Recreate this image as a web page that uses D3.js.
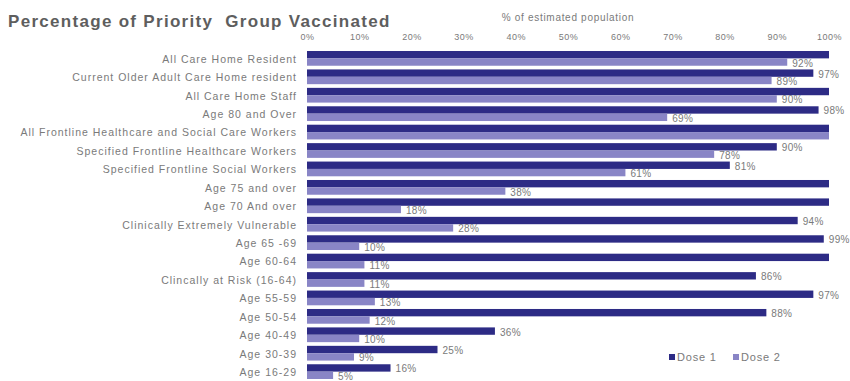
<!DOCTYPE html>
<html>
<head>
<meta charset="utf-8">
<script src="https://cdn.jsdelivr.net/npm/d3@7"></script>
<style>
	body { margin: 0; background: #fff; }
	text { font-family: "Liberation Sans", Arial, sans-serif; fill: #7a7a7a; }
</style>
</head>
<body>
<svg id="chart"></svg>
<script>
/* data */
var categories = [
	"All Care Home Resident",
	"Current Older Adult Care Home resident",
	"All Care Home Staff",
	"Age 80 and Over",
	"All Frontline Healthcare and Social Care Workers",
	"Specified Frontline Healthcare Workers",
	"Specified Frontline Social Workers",
	"Age 75 and over",
	"Age 70 And over",
	"Clinically Extremely Vulnerable",
	"Age 65 -69",
	"Age 60-64",
	"Clincally at Risk (16-64)",
	"Age 55-59",
	"Age 50-54",
	"Age 40-49",
	"Age 30-39",
	"Age 16-29"
];
var dose1 = [100, 97, 100, 98, 100, 90, 81, 100, 100, 94, 99, 100, 86, 97, 88, 36, 25, 16];
var dose2 = [92, 89, 90, 69, 100, 78, 61, 38, 18, 28, 10, 11, 11, 13, 12, 10, 9, 5];
var seriesNames = ["Dose 1", "Dose 2"];
var xTicks = [0, 10, 20, 30, 40, 50, 60, 70, 80, 90, 100];

/* settings */
var width = 850,
	height = 381,
	colors = ["#2d2b85", "#8985c6"];

var svg = d3.select("#chart")
	.attr("width", width)
	.attr("height", height);

/* scales */
var xScale = d3.scaleLinear()
	.domain([0, 100])
	.range([307, 829]);

var yScale = d3.scaleBand()
	.domain(categories)
	.range([51, 379])
	.paddingInner(0.2)
	.paddingOuter(0);

var subScale = d3.scaleBand()
	.domain(seriesNames)
	.range([0, yScale.bandwidth()]);

var rows = categories.map(function (c, i) {
	return {
		name: c,
		values: [
			{ series: seriesNames[0], value: dose1[i] },
			{ series: seriesNames[1], value: dose2[i] }
		]
	};
});

/* title */
svg.append("text")
	.attr("x", 8)
	.attr("y", 27)
	.style("font-size", "17px")
	.style("font-weight", "bold")
	.style("letter-spacing", "1.3px")
	.style("white-space", "pre")
	.style("fill", "#5e5e5e")
	.text("Percentage of Priority  Group Vaccinated");

/* top axis */
svg.append("text")
	.attr("x", (xScale(0) + xScale(100)) / 2)
	.attr("y", 21)
	.attr("text-anchor", "middle")
	.style("font-size", "10px")
	.style("letter-spacing", "0.7px")
	.text("% of estimated population");

var xAxis = d3.axisTop(xScale)
	.tickValues(xTicks)
	.tickSize(0)
	.tickPadding(0)
	.tickFormat(function (d) { return d + "%"; });

var xAxisG = svg.append("g")
	.attr("class", "x-axis")
	.attr("transform", "translate(0,40)")
	.call(xAxis);
xAxisG.select(".domain").remove();
xAxisG.selectAll("text")
	.attr("fill", null)
	.style("font-size", "9px")
	.style("letter-spacing", "0.5px")
	.style("font-family", null);

/* category labels */
var yAxis = d3.axisLeft(yScale).tickSize(0).tickPadding(0);
var yAxisG = svg.append("g")
	.attr("class", "y-axis")
	.attr("transform", "translate(297,1)")
	.call(yAxis);
yAxisG.select(".domain").remove();
yAxisG.selectAll("text")
	.attr("fill", null)
	.style("font-size", "10.5px")
	.style("letter-spacing", "1px")
	.style("font-family", null);

/* bars */
var groups = svg.append("g")
	.attr("id", "bars")
	.selectAll(".row")
	.data(rows)
	.enter()
	.append("g")
	.attr("class", "row")
	.attr("transform", function (d) { return "translate(0," + yScale(d.name) + ")"; });

groups.selectAll("rect")
	.data(function (d) { return d.values; })
	.enter()
	.append("rect")
	.attr("x", xScale(0))
	.attr("y", function (d) { return subScale(d.series); })
	.attr("width", function (d) { return xScale(d.value) - xScale(0); })
	.attr("height", subScale.bandwidth())
	.style("fill", function (d, i) { return colors[seriesNames.indexOf(d.series)]; });

/* value labels, the chart leaves 100% bars unlabelled */
groups.selectAll(".val")
	.data(function (d) { return d.values.filter(function (v) { return v.value < 100; }); })
	.enter()
	.append("text")
	.attr("class", "val")
	.attr("x", function (d) { return xScale(d.value) + 5; })
	.attr("y", function (d) { return subScale(d.series) + subScale.bandwidth() / 2 + 1; })
	.attr("dominant-baseline", "central")
	.style("font-size", "10px")
	.style("letter-spacing", "0.3px")
	.text(function (d) { return d.value + "%"; });

/* legend */
var legend = svg.append("g")
	.attr("transform", "translate(669,357)");

var item = legend.selectAll(".item")
	.data(seriesNames)
	.enter()
	.append("g")
	.attr("class", "item")
	.attr("transform", function (d, i) { return "translate(" + (i * 64) + ",0)"; });

item.append("rect")
	.attr("x", 0)
	.attr("y", -3)
	.attr("width", 6)
	.attr("height", 6)
	.style("fill", function (d, i) { return colors[i]; });

item.append("text")
	.attr("x", 8)
	.attr("y", 0)
	.attr("dominant-baseline", "central")
	.style("font-size", "11px")
	.style("letter-spacing", "0.8px")
	.text(function (d) { return d; });
</script>
</body>
</html>
